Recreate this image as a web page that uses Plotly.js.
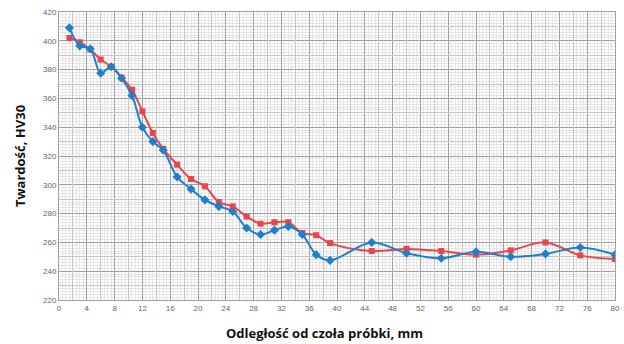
<!DOCTYPE html>
<html><head><meta charset="utf-8">
<script src="https://cdn.plot.ly/plotly-3.0.1.min.js"></script>
<style>html,body{margin:0;padding:0;background:#fff}#chart{width:624px;height:344px}</style>
</head><body><div id="chart"></div>
<script>
const distance = [1.5,3,4.5,6,7.5,9,10.5,12,13.5,15,17,19,21,23,25,27,29,31,33,35,37,39,45,50,55,60,65,70,75,80];
const hardnessRed = [402,399,394,387,382,374.5,366,351,336,325,314,304,299,288,285,278,273,274,274,266.5,265,259.5,254,255.5,254,251.5,254.5,260,251,248.5];
const hardnessBlue = [409,396.5,394.5,377.5,382,374,362,340,330,324,305.5,297,289.5,285,281.5,270,265.5,268.5,271,265.5,251.5,247.5,260,252.5,249,253.5,250,252,256.5,251.5];
const xTickVals = [0,4,8,12,16,20,24,28,32,36,40,44,48,52,56,60,64,68,72,76,80];
const yTickVals = [220,240,260,280,300,320,340,360,380,400,420];

// grid helper positions (styling only)
const xMid = [], xFine = [], yMid = [], yFine = [];
for (let v = 0; v <= 80.001; v += 0.5) {
  if (Math.abs(v % 4) < 1e-6) continue;
  if (Math.abs(v % 2) < 1e-6) xMid.push(v); else xFine.push(v);
}
for (let v = 220; v <= 420; v += 2) {
  if (v % 20 === 0) continue;
  if (v % 10 === 0) yMid.push(v); else yFine.push(v);
}

const traces = [
  {x: distance, y: hardnessRed, type: 'scatter', mode: 'lines+markers',
   line: {color: '#e8464b', width: 2, shape: 'spline', smoothing: 1},
   marker: {symbol: 'square', size: 6, color: '#e8464b'}, showlegend: false},
  {x: distance, y: hardnessBlue, type: 'scatter', mode: 'lines+markers',
   line: {color: '#1f80c9', width: 2, shape: 'spline', smoothing: 1},
   marker: {symbol: 'diamond', size: 7, color: '#1f80c9'}, showlegend: false},
  {x: [0], y: [220], xaxis: 'x2', yaxis: 'y2', mode: 'markers', marker: {opacity: 0}, showlegend: false, hoverinfo: 'skip'}
];

const tickFont = {family: 'Liberation Sans, Arial, sans-serif', size: 8, color: '#666'};
const titleFont = {family: 'Open Sans, sans-serif', size: 13, color: '#111', weight: 'bold'};

const layout = {
  width: 624, height: 344,
  margin: {l: 59, r: 9, t: 12, b: 44},
  paper_bgcolor: '#fff', plot_bgcolor: '#fff',
  showlegend: false,
  xaxis: {
    range: [0, 80], tickmode: 'array', tickvals: xTickVals, ticktext: xTickVals.map(String),
    tickfont: tickFont, gridcolor: '#a0a0a0', gridwidth: 1, zeroline: false,
    showline: true, linecolor: '#a0a0a0', mirror: true, ticks: '', ticklen: 0,
    minor: {tickmode: 'array', tickvals: xFine, showgrid: true, gridcolor: '#e6e6e6', gridwidth: 1}
  },
  yaxis: {
    range: [220, 420], tickmode: 'array', tickvals: yTickVals, ticktext: yTickVals.map(String),
    tickfont: tickFont, gridcolor: '#a0a0a0', gridwidth: 1, zeroline: false,
    showline: true, linecolor: '#a0a0a0', mirror: true, ticks: '', ticklen: 0,
    minor: {tickmode: 'array', tickvals: yFine, showgrid: true, gridcolor: '#e6e6e6', gridwidth: 1},
    title: {text: 'Twardość, HV30', font: titleFont, standoff: 14}
  },
  xaxis2: {overlaying: 'x', range: [0, 80], tickmode: 'array', tickvals: xMid, showticklabels: false,
    gridcolor: '#c6c6c6', gridwidth: 1, zeroline: false, showline: false, ticks: ''},
  yaxis2: {overlaying: 'y', range: [220, 420], tickmode: 'array', tickvals: yMid, showticklabels: false,
    gridcolor: '#c6c6c6', gridwidth: 1, zeroline: false, showline: false, ticks: ''},
  annotations: [{
    text: 'Odległość od czoła próbki, mm', font: titleFont, showarrow: false,
    xref: 'paper', yref: 'paper', x: 0.478, y: -0.115, xanchor: 'center', yanchor: 'middle'
  }]
};

Plotly.newPlot('chart', traces, layout, {displayModeBar: false, staticPlot: true});
</script></body></html>
